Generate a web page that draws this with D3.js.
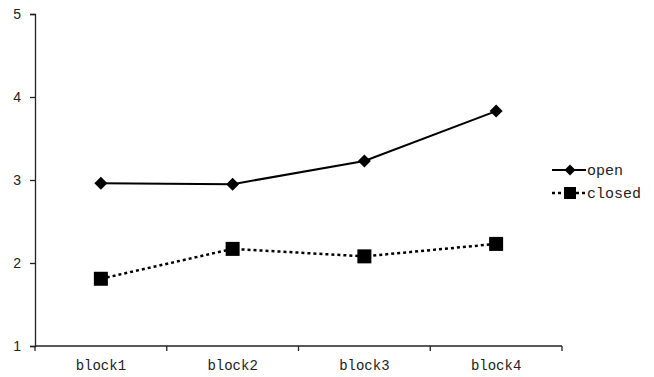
<!DOCTYPE html>
<html>
<head>
<meta charset="utf-8">
<script src="https://cdn.jsdelivr.net/npm/d3@7"></script>
<style>
  body { margin: 0; background: #fff; }
  svg { display: block; }
</style>
</head>
<body>
<svg id="chart" width="654" height="377"></svg>
<script>
// Chart data
const categories = ["block1", "block2", "block3", "block4"];
const openValues = [2.96, 2.95, 3.23, 3.83];
const closedValues = [1.81, 2.17, 2.08, 2.23];
const yTicks = [1, 2, 3, 4, 5];
const seriesNames = ["open", "closed"];

const svg = d3.select("#chart");
const margin = { left: 35, right: 92, top: 14, bottom: 31 };
const width = 654, height = 377;

const x = d3.scaleBand()
  .domain(categories)
  .range([margin.left, width - margin.right])
  .paddingInner(0).paddingOuter(0);

const y = d3.scaleLinear()
  .domain([1, 5])
  .range([height - margin.bottom, margin.top]);

const monoFont = "Liberation Mono, DejaVu Sans Mono, monospace";

// Y axis
const yAxis = svg.append("g")
  .attr("transform", `translate(${margin.left},0)`)
  .call(d3.axisLeft(y).tickValues(yTicks).tickFormat(d3.format("d")).tickSize(5).tickPadding(9));
yAxis.selectAll("text")
  .attr("font-family", "Liberation Sans, Arial, sans-serif")
  .attr("font-size", 14)
  .attr("fill", "#222");
yAxis.select(".domain").attr("stroke", "#222").attr("stroke-width", 1.3);
yAxis.selectAll(".tick line").attr("stroke", "#222").attr("stroke-width", 1.3);

// X axis with ticks at category boundaries
const xAxisG = svg.append("g")
  .attr("transform", `translate(0,${height - margin.bottom})`);
xAxisG.append("line")
  .attr("x1", margin.left).attr("x2", width - margin.right)
  .attr("stroke", "#222").attr("stroke-width", 1.3);
const bounds = categories.map(c => x(c)).concat([x(categories[categories.length - 1]) + x.bandwidth()]);
xAxisG.selectAll(".tk").data(bounds).join("line")
  .attr("x1", d => d).attr("x2", d => d)
  .attr("y1", 0).attr("y2", 5)
  .attr("stroke", "#222").attr("stroke-width", 1.3);
xAxisG.selectAll(".lbl").data(categories).join("text")
  .attr("x", d => x(d) + x.bandwidth() / 2)
  .attr("y", 24)
  .attr("text-anchor", "middle")
  .attr("font-family", monoFont)
  .attr("font-size", 14)
  .attr("fill", "#222")
  .text(d => d);

const cx = d => x(d) + x.bandwidth() / 2;
const line = d3.line().x(d => cx(d.c)).y(d => y(d.v));

const openData = categories.map((c, i) => ({ c, v: openValues[i] }));
const closedData = categories.map((c, i) => ({ c, v: closedValues[i] }));

// Open series: solid line with diamonds
svg.append("path").datum(openData)
  .attr("d", line).attr("fill", "none")
  .attr("stroke", "#000").attr("stroke-width", 2);
svg.selectAll(".dia").data(openData).join("path")
  .attr("transform", d => `translate(${cx(d.c)},${y(d.v)})`)
  .attr("d", "M0,-6.5L6.5,0L0,6.5L-6.5,0Z")
  .attr("fill", "#000");

// Closed series: dotted line with squares
svg.append("path").datum(closedData)
  .attr("d", line).attr("fill", "none")
  .attr("stroke", "#000").attr("stroke-width", 2.5)
  .attr("stroke-dasharray", "3,3");
svg.selectAll(".sq").data(closedData).join("rect")
  .attr("x", d => cx(d.c) - 7).attr("y", d => y(d.v) - 7)
  .attr("width", 14).attr("height", 14)
  .attr("fill", "#000");

// Legend
const legend = svg.append("g").attr("transform", "translate(552,170)");
const lg = legend.selectAll("g").data(seriesNames).join("g")
  .attr("transform", (d, i) => `translate(0,${i * 23})`);
lg.append("line")
  .attr("x1", 0).attr("x2", 34)
  .attr("stroke", "#000")
  .attr("stroke-width", (d, i) => i === 0 ? 2 : 2.5)
  .attr("stroke-dasharray", (d, i) => i === 0 ? null : "3,3");
lg.filter((d, i) => i === 0).append("path")
  .attr("transform", "translate(18,0)")
  .attr("d", "M0,-5.5L5.5,0L0,5.5L-5.5,0Z").attr("fill", "#000");
lg.filter((d, i) => i === 1).append("rect")
  .attr("x", 12).attr("y", -6).attr("width", 12).attr("height", 12).attr("fill", "#000");
lg.append("text")
  .attr("x", 35).attr("y", 5)
  .attr("font-family", monoFont)
  .attr("font-size", 15)
  .attr("fill", "#222")
  .text(d => d);
</script>
</body>
</html>
